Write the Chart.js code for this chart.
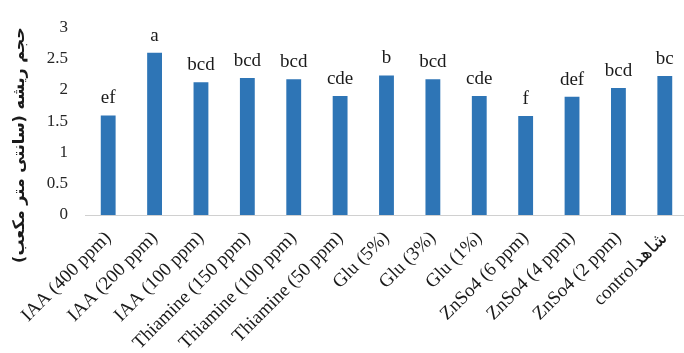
<!DOCTYPE html>
<html>
<head>
<meta charset="utf-8">
<script src="https://cdn.jsdelivr.net/npm/chart.js@4.4.1/dist/chart.umd.min.js"></script>
<style>
  html, body { margin: 0; padding: 0; overflow: hidden; background: #fff; }
  #wrap { width: 690px; height: 353px; }
</style>
</head>
<body>
<div id="wrap"><canvas id="c" width="690" height="353"></canvas></div>
<script>
// Treatments along the x axis
const categories = [
  'IAA (400 ppm)', 'IAA (200 ppm)', 'IAA (100 ppm)',
  'Thiamine (150 ppm)', 'Thiamine (100 ppm)', 'Thiamine (50 ppm)',
  'Glu (5%)', 'Glu (3%)', 'Glu (1%)',
  'ZnSo4 (6 ppm)', 'ZnSo4 (4 ppm)', 'ZnSo4 (2 ppm)',
  'controlشاهد'
];
// Root volume (cm³) per treatment
const rootVolume = [1.59, 2.59, 2.12, 2.19, 2.17, 1.90, 2.23, 2.17, 1.90, 1.58, 1.89, 2.03, 2.22];
// Mean-separation letters shown above the bars
const groupLetters = ['ef', 'a', 'bcd', 'bcd', 'bcd', 'cde', 'b', 'bcd', 'cde', 'f', 'def', 'bcd', 'bc'];
// Value axis ticks
const yTicks = [0, 0.5, 1, 1.5, 2, 2.5, 3];
const axisTitle = 'حجم ریشه (سانتی متر مکعب)';

const SERIF = '"Liberation Serif", "Times New Roman", serif';

// Letters above each bar
const letterPlugin = {
  id: 'groupLetters',
  afterDatasetsDraw(chart) {
    const ctx = chart.ctx;
    const meta = chart.getDatasetMeta(0);
    ctx.save();
    ctx.font = '19px ' + SERIF;
    ctx.fillStyle = '#1a1a1a';
    ctx.textAlign = 'center';
    ctx.textBaseline = 'alphabetic';
    meta.data.forEach((bar, i) => {
      ctx.fillText(groupLetters[i], bar.x, bar.y - 12);
    });
    ctx.restore();
  }
};

// Vertical Persian axis title on the left
const yTitlePlugin = {
  id: 'yTitle',
  afterDraw(chart) {
    const ctx = chart.ctx;
    ctx.save();
    ctx.translate(20, 145);
    ctx.rotate(-Math.PI / 2);
    ctx.direction = 'rtl';
    ctx.font = 'bold 16px "DejaVu Sans", sans-serif';
    ctx.fillStyle = '#1a1a1a';
    ctx.textAlign = 'center';
    ctx.textBaseline = 'middle';
    ctx.fillText(axisTitle, 0, 0);
    ctx.restore();
  }
};

new Chart(document.getElementById('c'), {
  type: 'bar',
  data: {
    labels: categories,
    datasets: [{
      data: rootVolume,
      backgroundColor: '#2E75B6',
      borderWidth: 0,
      barPercentage: 0.32,
      categoryPercentage: 1.0
    }]
  },
  options: {
    responsive: false,
    animation: false,
    devicePixelRatio: 1,
    layout: { padding: { top: 8, right: 2, left: 0, bottom: 0 } },
    plugins: { legend: { display: false }, tooltip: { enabled: false } },
    scales: {
      x: {
        grid: { display: false },
        border: { display: true, color: '#d0d0d0', width: 1 },
        ticks: {
          autoSkip: false,
          minRotation: 45,
          maxRotation: 45,
          padding: 4,
          color: '#1a1a1a',
          font: { family: SERIF, size: 19 }
        },
        afterFit(scale) { scale.height = 138; }
      },
      y: {
        min: 0,
        max: 3,
        grid: { display: false, drawTicks: false },
        border: { display: false },
        afterBuildTicks(scale) { scale.ticks = yTicks.map(v => ({ value: v })); },
        ticks: {
          padding: 17,
          color: '#262626',
          font: { family: SERIF, size: 17 },
          callback: (v) => String(v)
        },
        afterFit(scale) { scale.width = 85; }
      }
    }
  },
  plugins: [letterPlugin, yTitlePlugin]
});
</script>
</body>
</html>
